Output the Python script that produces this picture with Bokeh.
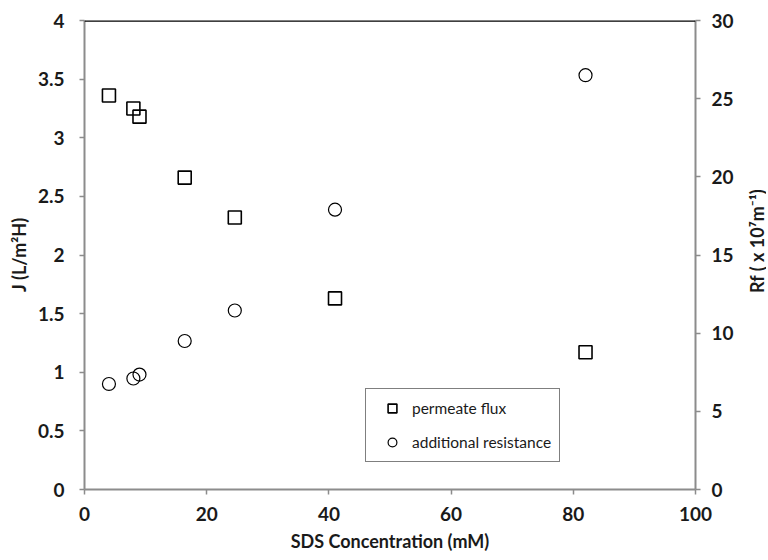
import math
from bokeh.plotting import figure
from bokeh.layouts import row
from bokeh.models import Range1d, LinearAxis, Span, Legend, LegendItem, FixedTicker
from bokeh.core.properties import value
from bokeh.embed import file_html
from bokeh.resources import INLINE

# data
sds = [4, 8, 9, 16.4, 24.6, 41, 82]
flux = [3.36, 3.25, 3.18, 2.66, 2.32, 1.63, 1.17]
resistance = [6.75, 7.1, 7.35, 9.5, 11.45, 17.9, 26.5]
x_ticks = [0, 20, 40, 60, 80, 100]
j_ticks = [0, 0.5, 1, 1.5, 2, 2.5, 3, 3.5, 4]
rf_ticks = [0, 5, 10, 15, 20, 25, 30]
rf_label = "Rf ( x 10⁷m⁻¹)"

FONT = "Lato"
AX_GRAY = "#8c8c8c"
TXT = "#1a1a1a"

p = figure(frame_width=611, frame_height=469, output_backend="svg", toolbar_location=None,
           x_range=Range1d(0, 100), y_range=Range1d(0, 4),
           min_border_left=84, min_border_right=40, min_border_top=20, min_border_bottom=68)
p.xgrid.grid_line_color = None
p.ygrid.grid_line_color = None
p.outline_line_color = None
p.background_fill_color = "white"

p.extra_y_ranges = {"rf": Range1d(0, 30)}
rax = LinearAxis(y_range_name="rf", ticker=FixedTicker(ticks=rf_ticks))
p.add_layout(rax, "right")

p.xaxis.ticker = FixedTicker(ticks=x_ticks)
p.yaxis[0].ticker = FixedTicker(ticks=j_ticks)
p.yaxis[0].major_label_overrides = {0: "0", 1: "1", 2: "2", 3: "3", 4: "4"}

for ax in [p.xaxis[0], p.yaxis[0], rax]:
    ax.axis_line_color = AX_GRAY
    ax.axis_line_width = 2
    ax.major_tick_line_color = AX_GRAY
    ax.major_tick_line_width = 1.5
    ax.major_tick_in = 0
    ax.major_tick_out = 5
    ax.minor_tick_line_color = None
    ax.major_label_text_font = FONT
    ax.major_label_text_font_style = "bold"
    ax.major_label_text_font_size = "19px"
    ax.major_label_text_color = TXT
    ax.axis_label_text_font = FONT
    ax.axis_label_text_font_style = "bold"
    ax.axis_label_text_font_size = "18px"
    ax.axis_label_text_color = TXT

p.xaxis[0].major_label_standoff = 12
p.xaxis[0].axis_label = "SDS Concentration (mM)"
p.xaxis[0].axis_label_standoff = 6
p.yaxis[0].major_label_standoff = 15
p.yaxis[0].axis_label = "J (L/m²H)"
p.yaxis[0].axis_label_standoff = 5
rax.major_label_standoff = 11

p.add_layout(Span(location=4, dimension="width", line_color="black", line_width=2.5))

r_flux = p.scatter(sds, flux, marker="square", size=13, fill_color=None,
                   line_color="black", line_width=1.6)
r_res = p.scatter(sds, resistance, marker="circle", size=13, fill_color=None,
                  line_color="black", line_width=1.2, y_range_name="rf")

legend = Legend(items=[LegendItem(label="permeate flux", renderers=[r_flux]),
                       LegendItem(label="additional resistance", renderers=[r_res])],
                location=(281, 27), orientation="vertical")
legend.border_line_color = "black"
legend.border_line_width = 1.5
legend.background_fill_color = "white"
legend.background_fill_alpha = 1
legend.padding = 8
legend.spacing = 12
legend.glyph_width = 36
legend.glyph_height = 22
legend.label_height = 22
legend.label_standoff = 2
legend.label_text_font = FONT
legend.label_text_font_size = "15.5px"
legend.label_text_color = TXT
legend.margin = 0
p.add_layout(legend, "center")

# right-hand axis title panel (reads bottom-to-top)
q = figure(frame_width=30, frame_height=469, output_backend="svg", toolbar_location=None,
           x_range=Range1d(0, 30), y_range=p.y_range,
           min_border_left=0, min_border_right=0, min_border_top=20, min_border_bottom=68)
q.axis.visible = False
q.xgrid.grid_line_color = None
q.ygrid.grid_line_color = None
q.outline_line_color = None
q.text(x=[20], y=[2.12], text=[rf_label], angle=math.pi / 2, text_align="center",
       text_baseline="middle", text_font=value(FONT), text_font_style="bold",
       text_font_size="18px", text_color=TXT)

open("out.html", "w").write(file_html(row(p, q, spacing=0), INLINE))
